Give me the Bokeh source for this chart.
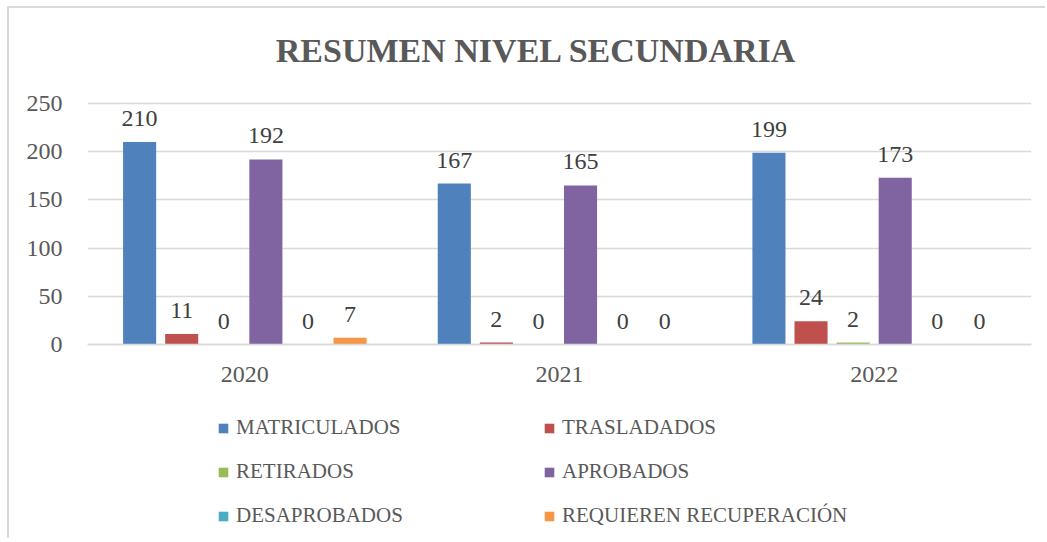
from bokeh.plotting import figure
from bokeh.models import ColumnDataSource, FactorRange, Range1d, Legend, LegendItem, LabelSet, FixedTicker
from bokeh.transform import dodge
from bokeh.core.properties import value
from bokeh.embed import file_html
from bokeh.resources import INLINE

years = ["2020", "2021", "2022"]
series = ["MATRICULADOS", "TRASLADADOS", "RETIRADOS", "APROBADOS",
          "DESAPROBADOS", "REQUIEREN RECUPERACIÓN"]
matriculados = [210, 167, 199]
trasladados = [11, 2, 24]
retirados = [0, 0, 2]
aprobados = [192, 165, 173]
desaprobados = [0, 0, 0]
requieren = [7, 0, 0]
colors = ["#4F81BD", "#C0504D", "#9BBB59", "#8064A2", "#4BACC6", "#F79646"]
y_ticks = [0, 50, 100, 150, 200, 250]
title_text = "RESUMEN NIVEL SECUNDARIA"

values_by_series = [matriculados, trasladados, retirados, aprobados, desaprobados, requieren]

SERIF = "Liberation Serif"
GRID = "#d9d9d9"

# the frame fills the canvas height: value 250 sits 95px below the top, 0 sits 241px lower
px_per_unit = 241 / 250
y_max = 250 + 95 / px_per_unit
y_min = -(532 - 95 - 241) / px_per_unit

p = figure(x_range=FactorRange(*years, range_padding=0), y_range=Range1d(y_min, y_max),
           width=1038, height=532, output_backend="svg", toolbar_location=None,
           min_border_left=78, min_border_right=16, min_border_top=0, min_border_bottom=0)
p.styles = {"margin-left": "7px", "margin-top": "6px",
            "border-left": "2px solid #d9d9d9", "border-top": "2px solid #d9d9d9"}

title_src = ColumnDataSource(dict(x=[years[1]], y=[250 + 42 / px_per_unit], t=[title_text]))
p.add_layout(LabelSet(x="x", y="y", text="t", source=title_src, x_offset=-23,
                      text_align="center", text_baseline="alphabetic", text_font=value(SERIF),
                      text_font_size="34px", text_font_style="bold", text_color="#595959"))

p.outline_line_color = None
p.xgrid.grid_line_color = None
p.ygrid.grid_line_color = GRID
p.ygrid.grid_line_width = 1.5
p.yaxis.ticker = FixedTicker(ticks=y_ticks)
p.yaxis.axis_line_color = None
p.yaxis.major_tick_line_color = None
p.yaxis.minor_tick_line_color = None
p.yaxis.major_label_standoff = 19
p.xaxis.fixed_location = 0
p.xaxis.axis_line_color = GRID
p.xaxis.axis_line_width = 1.5
p.xaxis.major_tick_line_color = None
p.xaxis.minor_tick_line_color = None
p.xaxis.major_label_standoff = 16
for ax in (p.xaxis[0], p.yaxis[0]):
    ax.major_label_text_font = SERIF
    ax.major_label_text_font_size = "24px"
    ax.major_label_text_color = "#595959"

slot = 42 / 314
bar_w = 33 / 314
items = []
for i, (name, vals, col) in enumerate(zip(series, values_by_series, colors)):
    off = (i - 2.5) * slot
    src = ColumnDataSource(dict(year=years, val=vals, lab=[str(v) for v in vals]))
    r = p.vbar(x=dodge("year", off, range=p.x_range), top="val", width=bar_w,
               source=src, color=col, line_color=None)
    items.append(LegendItem(label=name, renderers=[r]))
    lbl = LabelSet(x=dodge("year", off, range=p.x_range), y="val", text="lab", source=src,
                   text_align="center", text_baseline="alphabetic", y_offset=16,
                   text_font=value(SERIF), text_font_size="24px", text_color="#404040")
    p.add_layout(lbl)

legend = Legend(items=items, ncols=2, orientation="horizontal", location=(130, 12),
                glyph_width=12, glyph_height=12, label_standoff=7,
                label_width=288, label_height=24, spacing=19, padding=0, margin=0,
                label_text_font=SERIF, label_text_font_size="21px", label_text_color="#595959",
                border_line_color=None, background_fill_alpha=0)
p.add_layout(legend, "center")

open("out.html", "w").write(file_html(p, INLINE))
